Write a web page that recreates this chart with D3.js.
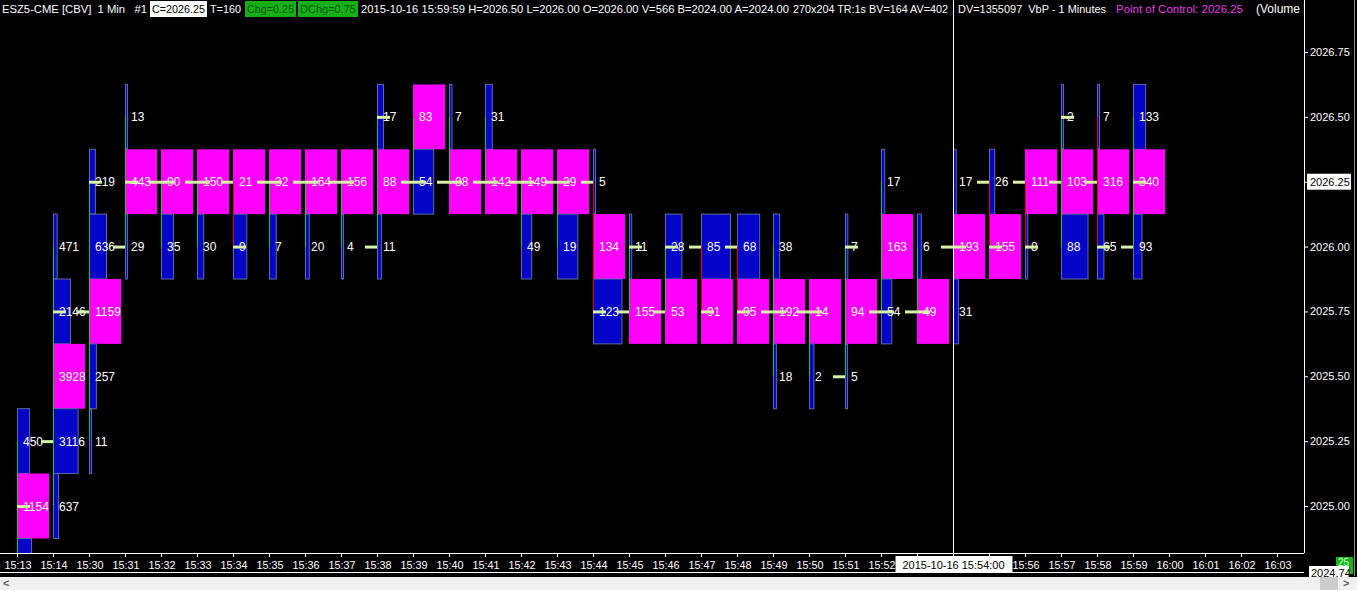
<!DOCTYPE html>
<html>
<head>
<meta charset="utf-8">
<script src="https://cdn.jsdelivr.net/npm/d3@7/dist/d3.min.js"></script>
<style>
html, body { margin: 0; padding: 0; background: #000; overflow: hidden; }
text { font-family: "Liberation Sans", Arial, sans-serif; }
</style>
</head>
<body>
<div id="chart"></div>
<script>
// minute bars (volume by price, 1 min)
var minutes = ["15:13","15:14","15:30","15:31","15:32","15:33","15:34","15:35","15:36","15:37",
               "15:38","15:39","15:40","15:41","15:42","15:43","15:44","15:45","15:46","15:47",
               "15:48","15:49","15:50","15:51","15:52","15:53","15:54","15:55","15:56","15:57",
               "15:58","15:59"];
var emptyMinutes = ["16:00","16:01","16:02","16:03"];
var axisMinutes = minutes.concat(emptyMinutes);

// top price of each bar, then volumes from top level down in 0.25 steps
var highs = [2025.25, 2026.00, 2026.25, 2026.50, 2026.25, 2026.25, 2026.25, 2026.25, 2026.25, 2026.25,
             2026.50, 2026.50, 2026.50, 2026.50, 2026.25, 2026.25, 2026.25, 2026.00, 2026.00, 2026.00,
             2026.00, 2026.00, 2025.75, 2026.00, 2026.25, 2026.00, 2026.25, 2026.25, 2026.25, 2026.50,
             2026.50, 2026.50];
var volumes = [
  [450, 1154, 520],
  [471, 2146, 3928, 3116, 637],
  [219, 636, 1159, 257, 11],
  [13, 443, 29],
  [90, 35],
  [150, 30],
  [21, 9],
  [32, 7],
  [164, 20],
  [156, 4],
  [17, 88, 11],
  [83, 54],
  [7, 88],
  [31, 142],
  [149, 49],
  [29, 19],
  [5, 134, 123],
  [11, 155],
  [28, 53],
  [85, 91],
  [68, 95],
  [38, 192, 18],
  [14, 2],
  [7, 94, 5],
  [17, 163, 54],
  [6, 49],
  [17, 193, 31],
  [26, 155],
  [111, 8],
  [2, 103, 88],
  [7, 316, 65],
  [133, 340, 93]
];
var opens  = [2024.75, 2025.25, 2025.75, 2026.00, 2026.25, 2026.25, 2026.25, 2026.25, 2026.25, 2026.25,
              2026.00, 2026.25, 2026.25, 2026.25, 2026.25, 2026.25, 2026.25, 2025.75, 2025.75, 2026.00,
              2026.00, 2025.75, 2025.75, 2025.50, 2025.75, 2025.75, 2026.00, 2026.25, 2026.25, 2026.25,
              2026.25, 2026.00];
var closes = [2025.00, 2025.75, 2026.25, 2026.25, 2026.25, 2026.25, 2026.00, 2026.25, 2026.25, 2026.25,
              2026.50, 2026.25, 2026.25, 2026.25, 2026.25, 2026.25, 2025.75, 2026.00, 2026.00, 2025.75,
              2025.75, 2025.75, 2025.75, 2026.00, 2025.75, 2025.75, 2026.00, 2026.00, 2026.00, 2026.50,
              2026.00, 2026.25];

var priceTicks = [2025.00, 2025.25, 2025.50, 2025.75, 2026.00, 2026.25, 2026.50, 2026.75];
var lastPrice = 2026.25;
var cursorMinute = "15:54";
var cursorLabel = "2015-10-16 15:54:00";

var W = 1357, H = 590, axisX = 1304, axisY = 553;

var svg = d3.select("#chart").append("svg")
    .attr("width", W).attr("height", H)
    .style("background", "#000").style("display", "block");

var x = d3.scalePoint().domain(axisMinutes).range([18, 1278]);
var y = d3.scaleLinear().domain([2025.00, 2026.75]).range([506, 52]);
var step = y(2025.00) - y(2025.25);

svg.append("defs").append("clipPath").attr("id", "plot")
    .append("rect").attr("x", 0).attr("y", 0).attr("width", axisX).attr("height", axisY);

var bars = minutes.map(function(m, i) {
    var vols = volumes[i], mx = d3.max(vols);
    return {
        minute: m, open: opens[i], close: closes[i],
        high: highs[i], low: highs[i] - 0.25 * (vols.length - 1),
        levels: vols.map(function(v, k) {
            return {price: highs[i] - 0.25 * k, vol: v, poc: v === mx, w: v / mx};
        })
    };
});

var plot = svg.append("g").attr("clip-path", "url(#plot)");

var g = plot.selectAll(".bar").data(bars).enter().append("g")
    .attr("class", "bar")
    .attr("transform", function(d) { return "translate(" + x(d.minute) + ",0)"; });

// profile boxes
g.selectAll(".lvl").data(function(d) { return d.levels; }).enter().append("rect")
    .attr("class", "lvl")
    .attr("x", function(d) { return d.poc ? -1 : -0.5; })
    .attr("y", function(d) { return y(d.price + 0.125); })
    .attr("width", function(d) { return d.poc ? 32 : Math.max(2, d.w * 31); })
    .attr("height", step)
    .attr("fill", function(d) { return d.poc ? "#ff00ff" : "#0505c8"; })
    .attr("stroke", function(d) { return d.poc ? "none" : "#5e6aa6"; })
    .attr("stroke-width", 1);

// high-low line
g.append("line")
    .attr("x1", -0.5).attr("x2", -0.5)
    .attr("y1", function(d) { return y(d.high); })
    .attr("y2", function(d) { return y(d.low); })
    .attr("stroke", function(d) { return d.close >= d.open ? "#1ec81e" : "#e80000"; })
    .attr("stroke-width", 1);

// volume numbers (only levels inside the visible price range)
g.selectAll(".vol").data(function(d) {
        return d.levels.filter(function(l) { return y(l.price) + 6 < axisY; });
    }).enter().append("text")
    .attr("class", "vol")
    .attr("x", 5)
    .attr("y", function(d) { return y(d.price) + 4.5; })
    .attr("fill", "#fff")
    .style("font-size", "12px")
    .text(function(d) { return d.vol; });

// open / close ticks
g.append("line")
    .attr("x1", -13).attr("x2", -1)
    .attr("y1", function(d) { return y(d.open) + 0.5; })
    .attr("y2", function(d) { return y(d.open) + 0.5; })
    .attr("stroke", "#d6f2a6").attr("stroke-width", 3);
g.append("line")
    .attr("x1", -1).attr("x2", 12)
    .attr("y1", function(d) { return y(d.close) + 0.5; })
    .attr("y2", function(d) { return y(d.close) + 0.5; })
    .attr("stroke", "#d6f2a6").attr("stroke-width", 3);

// axes
svg.append("line").attr("x1", axisX + 0.5).attr("x2", axisX + 0.5).attr("y1", 0).attr("y2", axisY)
    .attr("stroke", "#fff");
svg.append("line").attr("x1", 0).attr("x2", axisX).attr("y1", axisY + 0.5).attr("y2", axisY + 0.5)
    .attr("stroke", "#fff");
svg.append("line").attr("x1", 0).attr("x2", axisX).attr("y1", 572.5).attr("y2", 572.5)
    .attr("stroke", "#fff");

// cursor label covers the minutes right under it
var cx = x(cursorMinute) - 0.5;
var shownMinutes = axisMinutes.filter(function(d) { return Math.abs(x(d) - cx) > 40; });

var xa = svg.append("g");
xa.selectAll("line").data(axisMinutes).enter().append("line")
    .attr("x1", function(d) { return x(d) - 0.5; }).attr("x2", function(d) { return x(d) - 0.5; })
    .attr("y1", axisY).attr("y2", axisY + 4)
    .attr("stroke", "#fff");
xa.selectAll("text").data(shownMinutes).enter().append("text")
    .attr("x", function(d) { return x(d); })
    .attr("y", 569)
    .attr("text-anchor", "middle")
    .attr("fill", "#fff")
    .style("font-size", "10.8px")
    .text(function(d) { return d; });

var ya = svg.append("g");
ya.selectAll("line").data(priceTicks).enter().append("line")
    .attr("x1", axisX).attr("x2", axisX + 4)
    .attr("y1", function(d) { return y(d) + 0.5; }).attr("y2", function(d) { return y(d) + 0.5; })
    .attr("stroke", "#fff");
ya.append("rect").attr("x", 1307).attr("y", y(lastPrice) - 8).attr("width", 44).attr("height", 16)
    .attr("fill", "#fff");
ya.selectAll("text").data(priceTicks).enter().append("text")
    .attr("x", 1310)
    .attr("y", function(d) { return y(d) + 4; })
    .attr("fill", function(d) { return d === lastPrice ? "#000" : "#fff"; })
    .style("font-size", "11px")
    .text(function(d) { return d3.format(".2f")(d); });

// right edge strip
svg.append("line").attr("x1", 1354.5).attr("x2", 1354.5).attr("y1", 0).attr("y2", 576)
    .attr("stroke", "#8a8a8a");

// cursor
svg.append("line").attr("x1", cx).attr("x2", cx).attr("y1", 0).attr("y2", axisY)
    .attr("stroke", "#fff");
svg.append("rect").attr("x", cx - 58).attr("y", 556).attr("width", 117).attr("height", 17)
    .attr("fill", "#fff");
svg.append("text").attr("x", cx).attr("y", 569).attr("text-anchor", "middle")
    .attr("fill", "#000").style("font-size", "11px").text(cursorLabel);

// bottom-right price readout
svg.append("rect").attr("x", 1336).attr("y", 557).attr("width", 17).attr("height", 17).attr("fill", "#19b419");
svg.append("text").attr("x", 1338).attr("y", 566).attr("fill", "#d0ffd0").style("font-size", "10px").text("25");
svg.append("rect").attr("x", 1309).attr("y", 566).attr("width", 40).attr("height", 12).attr("fill", "#fff");
svg.append("text").attr("x", 1311).attr("y", 577).attr("fill", "#000").style("font-size", "11px").text("2024.74");

// scrollbar
svg.append("rect").attr("x", 0).attr("y", 577).attr("width", W).attr("height", 13).attr("fill", "#f0f0f0");
svg.append("rect").attr("x", 1320).attr("y", 577).attr("width", 18).attr("height", 13).attr("fill", "#cdcdcd");
svg.append("text").attr("x", 3).attr("y", 587).attr("fill", "#606060").style("font-size", "11px")
    .style("font-weight", "bold").text("<");
svg.append("text").attr("x", 1343).attr("y", 587).attr("fill", "#606060").style("font-size", "11px")
    .style("font-weight", "bold").text(">");

// header line
var head = svg.append("g");
head.append("clipPath").attr("id", "headclip").append("rect")
    .attr("x", 0).attr("y", 0).attr("width", axisX).attr("height", 18);
var hg = head.append("g").attr("clip-path", "url(#headclip)");
var segs = [
    {t: "ESZ5-CME [CBV]  1 Min   #1", x: 2, w: 145, fg: "#fff"},
    {t: "C=2026.25", x: 152, w: 53, fg: "#000", bg: "#fff"},
    {t: "T=160", x: 210, w: 31, fg: "#fff"},
    {t: "Chg=0.25", x: 247, w: 47, fg: "#0a560a", bg: "#16b016"},
    {t: "DChg=0.75", x: 300, w: 56, fg: "#0a560a", bg: "#16b016"},
    {t: "2015-10-16 15:59:59 H=2026.50 L=2026.00 O=2026.00 V=566 B=2024.00 A=2024.00", x: 361, w: 428, fg: "#fff"},
    {t: "270x204 TR:1s BV=164 AV=402", x: 793, w: 155, fg: "#fff"},
    {t: "DV=1355097  VbP - 1 Minutes", x: 958, w: 148, fg: "#fff"},
    {t: "Point of Control: 2026.25", x: 1116, w: 127, fg: "#e040e0"},
    {t: "(Volume Profile)", x: 1256, fg: "#fff"}
];
segs.forEach(function(s) {
    if (s.bg) {
        hg.append("rect").attr("x", s.x - 2).attr("y", 1).attr("width", s.w + 4).attr("height", 16)
            .attr("fill", s.bg);
    }
    var t = hg.append("text").attr("x", s.x).attr("y", 13)
        .attr("fill", s.fg).style("font-size", "12px").style("white-space", "pre")
        .text(s.t);
    if (s.w) {
        // shrink the font when the natural width is wider than the slot
        var natural = t.node().getComputedTextLength();
        if (natural > s.w) t.style("font-size", (12 * s.w / natural).toFixed(2) + "px");
        t.attr("textLength", s.w).attr("lengthAdjust", "spacingAndGlyphs");
    }
});
</script>
</body>
</html>
